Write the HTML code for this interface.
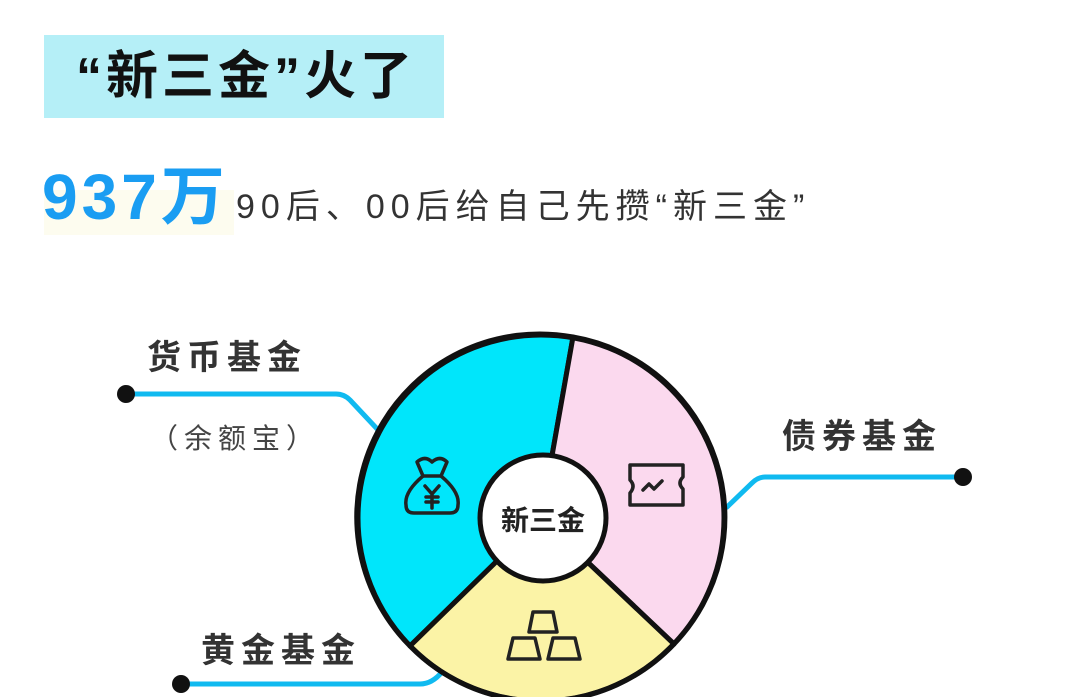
<!DOCTYPE html>
<html><head><meta charset="utf-8"><style>
body{margin:0;width:1080px;height:697px;background:#fff;overflow:hidden;position:relative;font-family:"Liberation Sans","Noto Sans CJK SC",sans-serif;}
.t{position:absolute;white-space:nowrap;}
</style></head><body>
<div style="position:absolute;left:44px;top:35px;width:400px;height:83px;background:#b5eff7;"></div>
<div class="t" style="left:76px;top:46px;font-size:52px;font-weight:bold;color:#111;line-height:62px;letter-spacing:4px;">“新三金”火了</div>
<div style="position:absolute;left:44px;top:190px;width:190px;height:45px;background:#fdfcef;"></div>
<div class="t" style="left:42px;top:158px;font-size:64px;font-weight:bold;color:#1a9df2;line-height:78px;letter-spacing:4px;">937万</div>
<div class="t" style="left:236px;top:184px;font-size:34px;color:#333;line-height:46px;letter-spacing:6px;">90后、00后给自己先攒“新三金”</div>

<svg style="position:absolute;left:0;top:0" width="1080" height="697">
 <g fill="none" stroke="#10baf0" stroke-width="5" stroke-linejoin="round">
  <path d="M126 394 H336 Q344 394 350 400 L380 432"/>
  <path d="M963 477 H765 Q758 477 752 483 L726 508"/>
  <path d="M181 684 H420 Q432 684 442 672"/>
 </g>
 <circle cx="126" cy="394" r="9" fill="#111"/>
 <circle cx="963" cy="477" r="9" fill="#111"/>
 <circle cx="181" cy="684" r="9" fill="#111"/>
 <g stroke="#111" stroke-width="5" stroke-linejoin="round">
  <path d="M541 518 L573 337 A183 183 0 0 0 410 646 Z" fill="#00e6fb"/>
  <path d="M541 518 L573 337 A183 183 0 0 1 674 644 Z" fill="#fbd9ee"/>
  <path d="M541 518 L674 644 A183 183 0 0 1 410 646 Z" fill="#fbf3a6"/>
  <circle cx="541" cy="518" r="183" fill="none"/>
  <circle cx="543" cy="518" r="63" fill="#fff"/>
 </g>
 <g fill="none" stroke="#222" stroke-width="3.5" stroke-linejoin="round" stroke-linecap="round">
  <path d="M417 462 Q425 455 432 462 Q440 455 447 462 L441 476 H423 Z"/>
  <path d="M423 476 Q404 492 406 505 Q406 513 414 513 H450 Q458 513 458 505 Q460 492 441 476"/>
  <path d="M425 486 L432 494 L439 486 M432 494 V508 M426 497 H438 M426 502 H438"/>
 </g>
 <g fill="none" stroke="#222" stroke-width="3.5" stroke-linejoin="round" stroke-linecap="round">
  <path d="M630 465 H683 V477 Q677 483 683 489 V505 H630 V493 Q636 486 630 480 Z"/>
  <path d="M643 490 L649 484 L654 489 L662 481"/>
 </g>
 <g fill="#fbf3a6" stroke="#222" stroke-width="3.5" stroke-linejoin="round">
  <path d="M529 632 L533 612 H553 L557 632 Z"/>
  <path d="M508 659 L513 638 H535 L540 659 Z"/>
  <path d="M548 659 L553 638 H575 L580 659 Z"/>
 </g>
 <text x="543" y="530" text-anchor="middle" font-family="Liberation Sans,Noto Sans CJK SC,sans-serif" font-size="28" font-weight="bold" fill="#222">新三金</text>
</svg>
<div class="t" style="left:147px;top:335px;font-size:34px;font-weight:bold;color:#333;line-height:46px;letter-spacing:6px;">货币基金</div>
<div class="t" style="left:150px;top:419px;font-size:28px;color:#444;line-height:40px;letter-spacing:6px;">（余额宝）</div>
<div class="t" style="left:782px;top:414px;font-size:34px;font-weight:bold;color:#333;line-height:46px;letter-spacing:6px;">债券基金</div>
<div class="t" style="left:201px;top:628px;font-size:34px;font-weight:bold;color:#333;line-height:46px;letter-spacing:6px;">黄金基金</div>
</body></html>
